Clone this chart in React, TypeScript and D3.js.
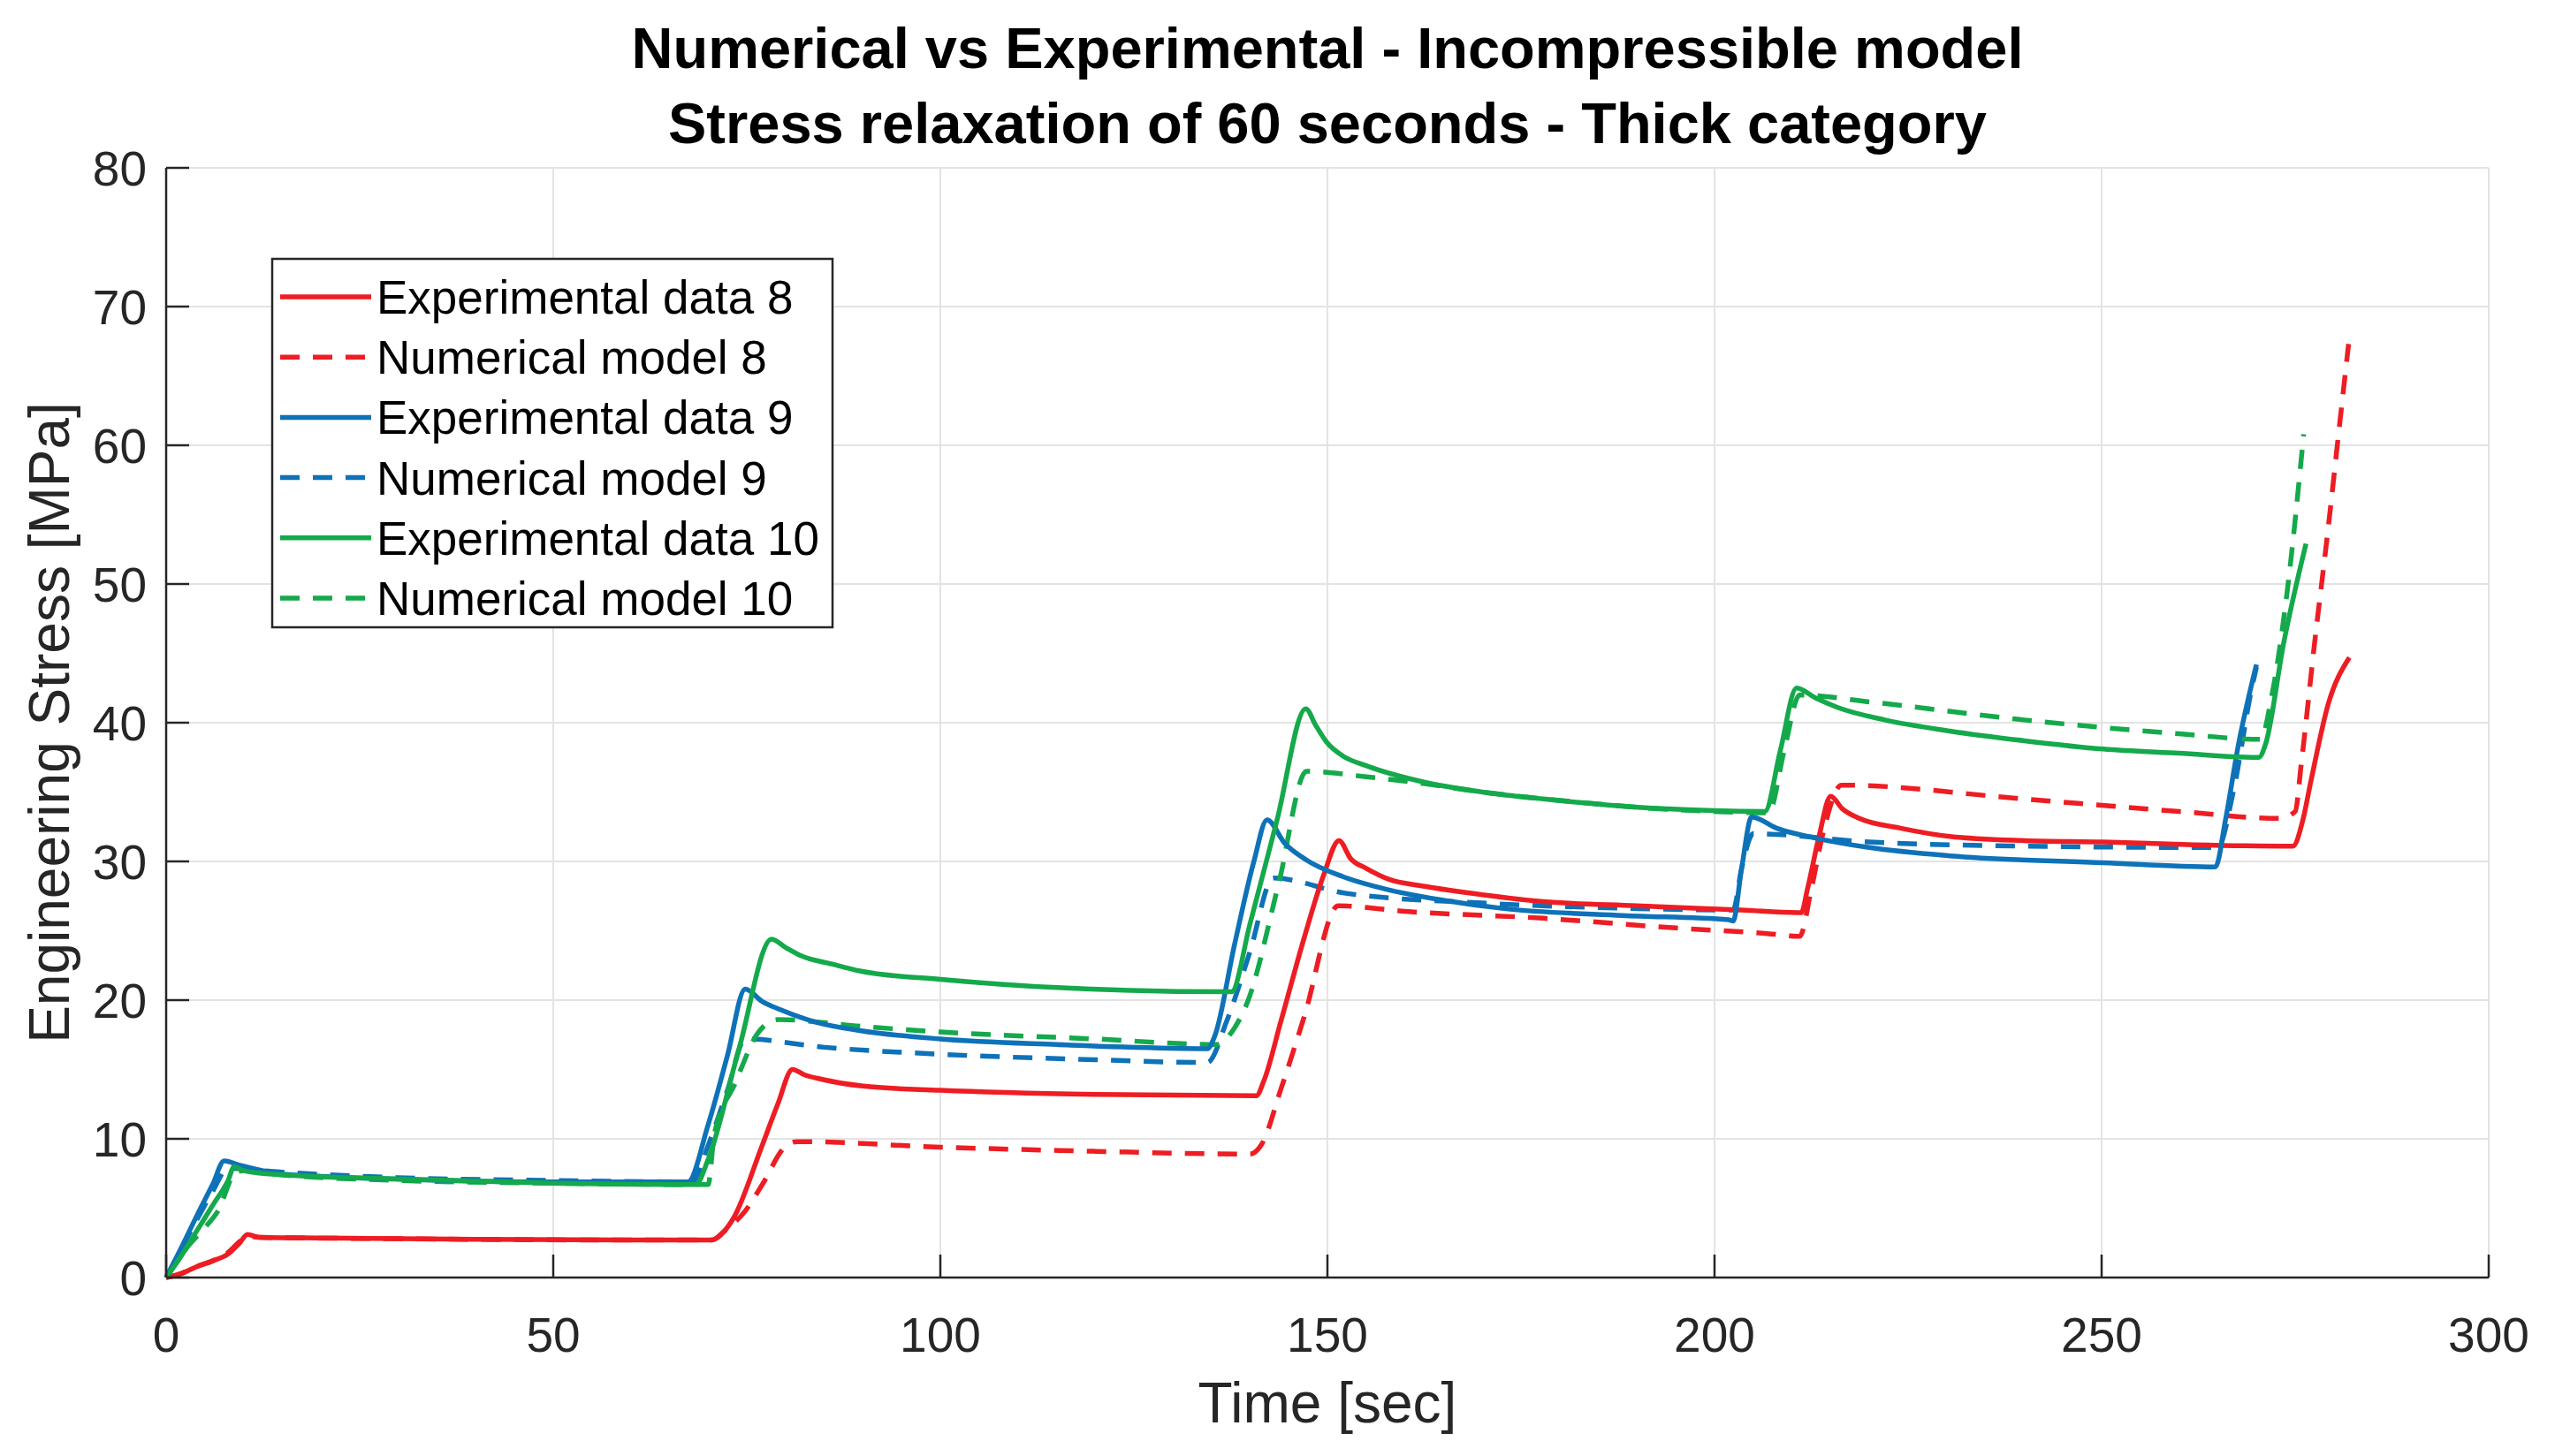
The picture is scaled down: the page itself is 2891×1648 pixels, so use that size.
import React from 'react';
import * as d3 from 'd3';

// [time (s), stress (MPa)]
const exp8: [number, number][] = [
  [0, 0], [2, 0.3], [4, 0.8], [6, 1.2], [8, 1.7], [9.5, 2.5], [10.5, 3.1], [12, 2.9], [20, 2.85], [40, 2.75],
  [60, 2.7], [70.3, 2.7], [73.3, 4.3], [76.9, 9.4], [79, 12.5], [80.9, 15.0], [82.5, 14.6], [84.6, 14.3],
  [90, 13.8], [100, 13.5], [120, 13.2], [140.8, 13.1], [141.8, 14.2], [144, 18.5], [147, 24.5], [149.5, 29],
  [151.5, 31.5], [153, 30.2], [155, 29.5], [158, 28.7], [162.6, 28.2], [170, 27.6], [177.9, 27.1], [190, 26.8],
  [203.4, 26.5], [211.2, 26.3], [212, 28], [213.5, 31.8], [215, 34.7], [216.5, 33.8], [218.7, 33.1], [224, 32.4],
  [230.4, 31.8], [240, 31.5], [250.2, 31.4], [262, 31.2], [274.7, 31.1], [276, 33], [277, 35.7], [279.3, 41.4],
  [282, 44.7],
];

const num8: [number, number][] = [
  [0, 0], [2, 0.3], [4, 0.8], [6, 1.2], [8, 1.8], [9.5, 2.6], [10.5, 3.0], [12, 2.9], [30, 2.8], [60, 2.7],
  [70.5, 2.7], [72, 3.3], [74.8, 4.8], [77, 6.7], [79.9, 9.4], [81.5, 9.8], [100, 9.4], [120, 9.1], [140, 8.9],
  [141.5, 9.6], [144, 13.6], [147, 18.8], [151.4, 26.8], [160, 26.4], [177.9, 25.9], [195, 25.2],
  [206.8, 24.8], [211, 24.6], [212.5, 28], [214, 32], [216.4, 35.5], [240, 34.5], [260, 33.6], [273, 33.1],
  [275, 33.6], [275.8, 37.1], [277.5, 45.7], [279.3, 54.2], [280.7, 61.3], [281.9, 67.3],
];

const exp9: [number, number][] = [
  [0, 0], [2, 2.2], [4, 4.5], [6, 6.7], [7.5, 8.4], [9.5, 8.1], [14.4, 7.5], [20, 7.3], [29.7, 7.1], [50, 6.9],
  [67.4, 6.9], [70, 11], [72.5, 16], [74.8, 20.8], [77, 19.9], [79.4, 19.3], [84, 18.4], [89.6, 17.8], [100, 17.2],
  [115, 16.8], [134.5, 16.5], [135.5, 17.5], [138, 24], [140.5, 30], [142.2, 33.0], [144.5, 31.3], [147.3, 30.1],
  [152, 28.9], [157.5, 28.0], [165, 27.2], [172.8, 26.6], [188.1, 26.1], [201.8, 25.8], [202.4, 25.7],
  [203.5, 29.5], [204.8, 33.2], [208, 32.4], [212.9, 31.7], [220, 31.0], [230.4, 30.4], [250.2, 29.9],
  [264.7, 29.6], [266, 33], [267.7, 38.5], [270, 44.2],
];

const num9: [number, number][] = [
  [0, 0], [2, 2.1], [4, 4.2], [6, 6.2], [8, 7.9], [10, 7.8], [15, 7.6], [30, 7.2], [50, 7.0], [68, 6.9],
  [70, 9.5], [72.5, 13.5], [74.8, 17.2], [85, 16.6], [100, 16.1], [120, 15.7], [134.5, 15.5], [137, 18.5],
  [140, 23.5], [143, 28.8], [152.4, 27.7], [170, 27.0], [190, 26.6], [202.4, 26.5], [203.5, 29.5], [205, 32],
  [220, 31.4], [240, 31.1], [265, 31.0], [267, 35], [269.4, 42.5], [270, 44],
];

const exp10: [number, number][] = [
  [0, 0], [2, 1.6], [4, 3.4], [6, 5.2], [8, 7.0], [8.8, 8.0], [10, 7.7], [15, 7.4], [30, 7.1], [50, 6.8],
  [68.4, 6.7], [70, 8.5], [74, 16.5], [78.2, 24.4], [80, 23.8], [82, 23.2], [86, 22.6], [89.6, 22.1], [100, 21.5],
  [115.1, 20.9], [137.6, 20.6], [140, 25.5], [143.5, 33], [147.2, 41.0], [148.5, 39.8], [149.9, 38.6],
  [152, 37.6], [155, 36.9], [162.6, 35.7], [170, 35.0], [177.9, 34.5], [193.2, 33.8], [206.5, 33.6],
  [208.5, 38], [210.6, 42.5], [213, 41.8], [215.9, 41.1], [222, 40.2], [230.4, 39.4], [240, 38.7],
  [250.2, 38.1], [260, 37.8], [270.3, 37.5], [271.2, 38.5], [273.5, 45.7], [276.4, 52.9],
];

const num10: [number, number][] = [
  [0, 0], [2.9, 2.3], [5, 3.6], [6.7, 4.8], [9, 7.6], [10, 7.7], [15, 7.4], [30, 7.0], [50, 6.8], [70, 6.7],
  [70.8, 10.3], [73.5, 14], [76.4, 17.6], [79, 18.6], [90, 18.1], [100, 17.7], [120, 17.2], [135.6, 16.8],
  [138, 18], [139.7, 19.9], [143.7, 28.4], [147.3, 36.5], [155, 36.1], [162.6, 35.6], [170, 35.0], [180, 34.4],
  [190, 33.9], [200, 33.6], [207, 33.5], [209, 38], [211, 42], [220, 41.5], [240, 40.2], [260, 39.2],
  [270.5, 38.8], [272, 42], [274, 49.6], [276.1, 60.8],
];

const seriesLabels = [
  'Experimental data 8',
  'Numerical model 8',
  'Experimental data 9',
  'Numerical model 9',
  'Experimental data 10',
  'Numerical model 10',
];

const xTicks = [0, 50, 100, 150, 200, 250, 300];
const yTicks = [0, 10, 20, 30, 40, 50, 60, 70, 80];

const titleLines = [
  'Numerical vs Experimental - Incompressible model',
  'Stress relaxation of 60 seconds - Thick category',
];

const RED = '#EE1D23';
const BLUE = '#0E72B8';
const GREEN = '#14A94B';

const FONT = '"Liberation Sans", Arial, Helvetica, sans-serif';
const AXIS = '#262626';
const LW = 5.5;
const DASH = '22 15';

const W = 2891;
const H = 1648;
const margin = { left: 188, right: W - 2816, top: 190, bottom: H - 1446 };

export default function App() {
  const x = d3.scaleLinear().domain([0, 300]).range([margin.left, W - margin.right]);
  const y = d3.scaleLinear().domain([0, 80]).range([H - margin.bottom, margin.top]);

  const line = d3
    .line<[number, number]>()
    .x((d) => x(d[0]))
    .y((d) => y(d[1]))
    .curve(d3.curveMonotoneX);

  const series = [
    { data: exp8, color: RED, dashed: false },
    { data: num8, color: RED, dashed: true },
    { data: exp9, color: BLUE, dashed: false },
    { data: num9, color: BLUE, dashed: true },
    { data: exp10, color: GREEN, dashed: false },
    { data: num10, color: GREEN, dashed: true },
  ];

  const [x0, x1] = x.range();
  const [yb, yt] = y.range();
  const tickLen = 26;

  // legend box
  const lg = { x: 308, y: 293, w: 634, h: 417, row: 68.2, first: 336 };

  return (
    <svg
      width={W}
      height={H}
      style={{ position: 'absolute', left: 0, top: 0, display: 'block', background: '#fff' }}
    >
      {/* grid */}
      {xTicks.map((t) => (
        <line key={'gx' + t} x1={x(t)} x2={x(t)} y1={yt} y2={yb} stroke="#e3e3e3" strokeWidth={2} />
      ))}
      {yTicks.map((t) => (
        <line key={'gy' + t} x1={x0} x2={x1} y1={y(t)} y2={y(t)} stroke="#e3e3e3" strokeWidth={2} />
      ))}

      {/* series: dashed first so solids sit on top */}
      {[1, 3, 5, 0, 2, 4].map((i) => {
        const s = series[i];
        return (
          <path
            key={'s' + i}
            d={line(s.data) ?? ''}
            fill="none"
            stroke={s.color}
            strokeWidth={LW}
            strokeDasharray={s.dashed ? DASH : undefined}
            strokeLinejoin="round"
          />
        );
      })}

      {/* axes */}
      <line x1={x0} x2={x1} y1={yb} y2={yb} stroke={AXIS} strokeWidth={2.5} />
      <line x1={x0} x2={x0} y1={yt} y2={yb} stroke={AXIS} strokeWidth={2.5} />
      {xTicks.map((t) => (
        <g key={'xt' + t}>
          <line x1={x(t)} x2={x(t)} y1={yb} y2={yb - tickLen} stroke={AXIS} strokeWidth={2.5} />
          <text x={x(t)} y={1530} textAnchor="middle" fontFamily={FONT} fontSize={55} fill={AXIS}>
            {t}
          </text>
        </g>
      ))}
      {yTicks.map((t) => (
        <g key={'yt' + t}>
          <line x1={x0} x2={x0 + tickLen} y1={y(t)} y2={y(t)} stroke={AXIS} strokeWidth={2.5} />
          <text x={166} y={y(t) + 20} textAnchor="end" fontFamily={FONT} fontSize={55} fill={AXIS}>
            {t}
          </text>
        </g>
      ))}

      {/* axis labels */}
      <text x={(x0 + x1) / 2} y={1610} textAnchor="middle" fontFamily={FONT} fontSize={64} fill={AXIS}>
        Time [sec]
      </text>
      <text
        transform={`translate(78,${(yt + yb) / 2}) rotate(-90)`}
        textAnchor="middle"
        fontFamily={FONT}
        fontSize={64}
        fill={AXIS}
      >
        Engineering Stress [MPa]
      </text>

      {/* title */}
      {titleLines.map((t, i) => (
        <text
          key={'ti' + i}
          x={(x0 + x1) / 2}
          y={77 + i * 85}
          textAnchor="middle"
          fontFamily={FONT}
          fontWeight="bold"
          fontSize={65}
          fill="#000"
        >
          {t}
        </text>
      ))}

      {/* legend */}
      <rect x={lg.x} y={lg.y} width={lg.w} height={lg.h} fill="#fff" stroke={AXIS} strokeWidth={2.5} />
      {seriesLabels.map((label, i) => {
        const cy = lg.first + i * lg.row;
        const s = series[i];
        return (
          <g key={'lg' + i}>
            <line
              x1={317}
              x2={420}
              y1={cy}
              y2={cy}
              stroke={s.color}
              strokeWidth={LW}
              strokeDasharray={s.dashed ? DASH : undefined}
            />
            <text x={426} y={cy + 19} fontFamily={FONT} fontSize={53} fill="#000">
              {label}
            </text>
          </g>
        );
      })}
    </svg>
  );
}
